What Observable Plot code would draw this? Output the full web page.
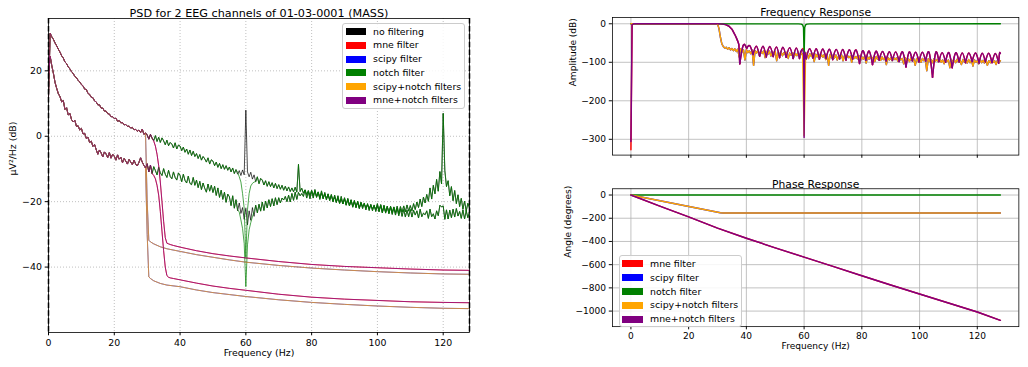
<!DOCTYPE html>
<html><head><meta charset="utf-8">
<script src="https://cdn.jsdelivr.net/npm/d3@7"></script>
<script src="https://cdn.jsdelivr.net/npm/@observablehq/plot@0.6"></script>
<style>
html,body{margin:0;padding:0;background:#fff;overflow:hidden;}
#root{position:relative;width:1028px;height:367px;overflow:hidden;font-family:"DejaVu Sans",sans-serif;color:#000;}
.panel{position:absolute;}
.legend{position:absolute;background:rgba(255,255,255,0.85);border:1px solid #cccccc;border-radius:3px;box-sizing:border-box;font-size:9.4px;}
.legend .row{position:absolute;left:0;right:0;height:12px;}
.legend .sw{position:absolute;top:2.5px;height:7px;}
.legend .lb{position:absolute;top:0;line-height:12px;white-space:nowrap;}
</style>
</head><body><div id="root"></div>
<script>
// ---------- LEFT PANEL: PSD (0.5 Hz grid starting at 0 Hz) ----------
const psdStep = 0.5;
const psdTitle = "PSD for 2 EEG channels of 01-03-0001 (MASS)";
const psdXTicks = [0, 20, 40, 60, 80, 100, 120];
const psdYTicks = [-40, -20, 0, 20];
const rawA = [
12.0, 31.5, 30.4, 29.6, 28.5, 27.6, 26.6, 25.7, 24.6, 23.9,
22.7, 22.2, 21.2, 20.6, 19.7, 19.2, 18.3, 17.9, 17.1, 16.6,
15.8, 15.4, 14.4, 14.3, 13.1, 12.8, 11.9, 11.8, 10.8, 10.5,
9.6, 9.6, 8.6, 8.6, 7.7, 7.7, 6.9, 6.8, 6.0, 6.0,
5.4, 5.5, 4.6, 4.8, 4.1, 4.2, 3.5, 3.6, 3.0, 3.1,
2.5, 2.7, 2.0, 2.1, 1.5, 1.9, 1.1, 2.2, 0.6, 1.0,
0.4, -0.9, 0.6, -0.6, -1.3, 0.2, -1.6, -0.3, -1.9, -0.5,
-1.4, -2.6, -1.2, -2.9, -1.9, -2.4, -3.6, -2.0, -3.9, -2.7,
-3.0, -4.4, -3.3, -4.9, -3.9, -5.5, -4.2, -5.9, -4.6, -6.2,
-5.3, -6.8, -5.6, -7.3, -6.2, -6.9, -7.9, -6.6, -8.5, -7.2,
-7.6, -9.0, -7.9, -9.5, -8.3, -9.9, -8.7, -10.1, -9.0, -10.4,
-9.4, -10.9, -9.7, -11.4, -10.2, -11.6, -10.5, -12.0, -10.3, -11.8,
8.0, -10.9, -12.4, -11.0, -13.1, -11.8, -13.9, -12.4, -14.5, -12.9,
-13.4, -14.9, -13.6, -15.3, -13.9, -15.4, -14.2, -15.8, -14.4, -16.0,
-14.8, -16.2, -15.0, -16.5, -15.3, -16.7, -15.5, -16.9, -15.8, -17.0,
-15.6, -17.1, -8.6, -16.9, -15.9, -17.4, -16.4, -17.8, -16.6, -18.1,
-16.5, -18.1, -16.8, -18.5, -17.1, -18.8, -17.3, -19.0, -17.6, -19.1,
-17.8, -19.4, -18.1, -19.8, -18.5, -20.1, -18.8, -20.5, -19.2, -20.7,
-19.1, -20.9, -19.3, -21.2, -19.6, -21.4, -19.9, -21.6, -20.1, -22.0,
-20.3, -22.1, -20.4, -22.5, -20.6, -22.7, -20.8, -22.8, -21.0, -23.0,
-21.2, -23.1, -21.0, -23.4, -21.3, -23.2, -21.5, -23.5, -21.4, -23.3,
-21.6, -23.4, -21.4, -23.6, -21.5, -23.2, -21.3, -23.1, -21.0, -22.9,
-21.2, -22.8, -20.6, -22.4, -20.1, -21.8, -19.2, -21.5, -18.6, -20.4,
-17.8, -19.9, -15.8, -19.2, -15.0, -17.6, -13.2, -16.8, -10.8, -14.6,
7.0, -10.5, -15.4, -13.6, -18.2, -15.4, -19.7, -16.6, -20.6, -17.9,
-21.5, -19.0, -22.3, -19.8, -22.9, -20.5,
-22.0];
const rawB = [
18.0, 24.5, 21.6, 19.2, 16.4, 14.6, 13.0, 12.1, 10.5, 10.9,
8.2, 8.7, 6.5, 7.0, 5.1, 4.4, 4.9, 3.0, 3.2, 1.9,
2.4, 0.7, 0.9, -0.7, -0.3, -1.9, -1.5, -3.1, -2.5, -4.1,
-5.5, -4.2, -5.1, -6.3, -4.8, -5.4, -6.5, -5.0, -6.7, -5.5,
-6.1, -7.3, -5.7, -7.0, -6.4, -8.1, -6.8, -7.6, -8.5, -7.1,
-7.9, -8.7, -7.3, -8.5, -9.1, -8.0, -6.6, -7.9, -8.9, -9.7,
-8.4, -10.9, -8.8, -11.4, -9.3, -10.5, -11.8, -9.5, -11.2, -12.0,
-9.9, -11.6, -12.6, -10.4, -12.3, -13.0, -10.9, -12.6, -13.4, -11.2,
-12.0, -13.9, -11.6, -13.5, -14.3, -12.2, -14.4, -14.8, -12.6, -15.0,
-13.4, -15.7, -13.8, -16.3, -14.3, -15.9, -17.1, -14.6, -16.8, -15.0,
-17.2, -15.3, -18.1, -15.8, -18.7, -16.5, -19.3, -17.1, -20.2, -17.7,
-18.5, -21.2, -18.2, -22.0, -19.4, -22.8, -20.4, -23.6, -21.8, -25.4,
-22.0, -27.1, -22.8, -25.7, -21.8, -24.5, -21.1, -23.4, -20.8, -22.9,
-20.1, -22.7, -19.8, -21.9, -19.4, -21.5, -19.1, -21.3, -18.8, -20.9,
-18.8, -20.4, -18.9, -19.5, -18.4, -20.0, -18.0, -20.1, -17.5, -19.6,
-17.1, -19.3, -17.2, -18.2, -17.5, -18.4, -16.4, -18.9, -17.0, -19.1,
-16.8, -18.9, -16.3, -18.7, -17.0, -19.3, -16.7, -19.1, -17.2, -19.5,
-17.6, -19.7, -17.8, -20.1, -18.0, -20.3, -18.2, -20.5, -18.4, -20.7,
-18.8, -21.1, -19.0, -21.3, -19.4, -21.7, -19.6, -21.9, -19.8, -22.1,
-20.2, -21.5, -20.7, -21.8, -20.9, -22.1, -21.1, -22.2, -21.3, -22.4,
-20.6, -22.9, -20.9, -23.3, -21.1, -23.5, -21.4, -23.7, -21.6, -23.9,
-21.8, -24.1, -22.0, -24.3, -22.2, -24.5, -22.4, -24.7, -22.6, -24.6,
-22.4, -24.7, -22.6, -24.1, -22.8, -25.0, -22.3, -24.6, -23.5, -24.0,
-22.8, -25.1, -22.3, -24.6, -23.7, -25.3, -22.8, -24.3, -21.1, -21.6,
-21.3, -25.4, -22.5, -25.3, -22.6, -24.9, -22.3, -24.7, -22.1, -24.4,
-23.0, -25.1, -22.5, -25.3, -22.8, -24.9,
-23.0];
// notch-filtered section around 60 Hz
const notchF = [57, 57.5, 58, 58.5, 59, 59.5, 60, 60.5, 61, 61.5, 62, 62.5, 63];
const notchA = [-10.2, -11.0, -12.4, -14.0, -17.5, -22.0, -37.0, -22.5, -17.5, -15.2, -14.4, -14.0, -13.9];
const notchB = [-19.4, -22.4, -23.2, -25.6, -28.2, -32.8, -46.0, -33.2, -28.6, -26.4, -24.6, -23.1, -21.1];
// mne low-pass (passband kept up to 31.5 Hz)
const mnePassMax = 31.5;
const mneTailF = [32, 32.5, 33, 33.5, 34, 34.5, 35, 35.5, 36, 36.5, 37, 38, 40, 45, 50, 55, 60, 70, 80, 90, 100, 110, 120, 128];
const mneTailA = [-1.5, -3, -5.5, -9, -14, -20, -26, -31, -32.7, -32.9, -33.1, -33.4, -33.9, -35.0, -35.9, -36.6, -37.2, -38.3, -39.2, -39.8, -40.2, -40.6, -40.9, -41.0];
const mneTailB = [-12, -13, -15, -18, -23, -29, -35, -40, -42.6, -43.1, -43.3, -43.5, -43.9, -44.9, -45.8, -46.5, -47.1, -48.3, -49.2, -49.8, -50.2, -50.6, -50.8, -50.9];
// scipy low-pass (passband kept up to 29.5 Hz)
const scipyPassMax = 29.5;
const scipyTailF = [30, 30.5, 31, 32, 34, 36, 40, 45, 50, 55, 60, 70, 80, 90, 100, 110, 120, 128];
const scipyTailA = [-20, -31.8, -32.3, -32.9, -33.8, -34.4, -35.2, -36.2, -37.0, -37.8, -38.5, -39.5, -40.3, -40.9, -41.4, -41.8, -42.1, -42.2];
const scipyTailB = [-30, -43.0, -43.5, -44.2, -45.0, -45.5, -46.0, -47.0, -47.8, -48.4, -49.0, -50.0, -50.8, -51.4, -51.9, -52.3, -52.6, -52.7];

const psdLabels = ["no filtering", "mne filter", "scipy filter", "notch filter", "scipy+notch filters", "mne+notch filters"];
const psdColors = ["black", "red", "blue", "green", "orange", "purple"];

// ---------- RIGHT TOP: frequency response ----------
const ampYTicks = [-300, -200, -100, 0];
const freqXTicks = [0, 20, 40, 60, 80, 100, 120];
const mneDC = -327, mneNotchDC = -306;
const mneRollF = [0.4, 1, 30, 31, 32, 33, 34, 35, 35.5, 36, 36.5, 37, 37.4];
const mneRollDb = [-2, 0, 0, -0.3, -1, -3, -6.5, -14, -21, -28, -36, -45, -54];
const lobeEdgeF = [37.7, 40.1, 42.3, 44.6, 46.9, 49.3, 51.5, 53.8, 56.2, 58.4, 60.7, 63.1, 65.3, 67.6, 69.9, 72.3, 74.5, 76.8, 79.2, 81.4, 83.7, 86.0, 88.4, 90.6, 92.9, 95.3, 97.5, 99.8, 102.1, 104.5, 106.7, 109.0, 111.3, 113.7, 115.9, 118.2, 120.6, 122.8, 125.1, 127.4, 128.0];
const lobeNullDb = [-104, -64, -80, -84, -86, -85, -88, -87, -90, -90, -91, -89, -92, -90, -93, -91, -94, -92, -103, -95, -106, -94, -97, -95, -98, -112, -96, -99, -97, -139, -98, -100, -114, -99, -101, -98, -102, -99, -101, -102, -77];
const lobePeakDb = [-56, -57, -58, -58.5, -59, -60, -61, -62, -63, -64, -64.5, -65, -65.5, -66, -66.5, -67, -67.5, -68, -70, -71, -71.5, -72, -72.5, -73, -73, -73.5, -74, -74, -74.5, -74.5, -75, -75, -75.5, -75.5, -76, -76, -76.5, -76.5, -77, -77];
const mneNotch60F = [58.4, 58.8, 59.2, 59.6, 59.85, 60.0, 60.15, 60.35, 60.7];
const mneNotch60Db = [-90, -72, -67, -69, -82, -295, -82, -74, -91];
const scipyRollF = [0, 29.5, 30, 30.5, 31, 31.5];
const scipyRollDb = [0, 0, -0.5, -12, -35, -52];
const scipyStopStart = 32;
const scipyStopDb = [
-59, -63, -61, -66, -62, -68, -64, -70, -65, -72,
-66, -86, -65, -73, -68, -94, -67, -75, -70, -78,
-68, -108, -70, -76, -69, -82, -72, -77, -70, -88,
-72, -79, -71, -84, -73, -80, -72, -96, -74, -80,
-73, -83, -75, -81, -74, -90, -76, -82, -75, -86,
-77, -83, -75, -87, -76, -80, -290, -84, -76, -90,
-78, -85, -77, -98, -79, -86, -78, -88, -80, -87,
-79, -93, -81, -108, -80, -88, -82, -89, -81, -94,
-82, -89, -81, -96, -83, -90, -82, -88, -84, -100,
-83, -90, -85, -91, -83, -97, -86, -92, -84, -102,
-86, -92, -84, -91, -87, -98, -85, -92, -88, -95,
-86, -93, -88, -106, -87, -94, -89, -96, -87, -93,
-89, -97, -88, -94, -90, -104, -88, -95, -91, -98,
-89, -96, -91, -108, -90, -97, -92, -100, -90, -96,
-92, -122, -91, -98, -93, -101, -91, -97, -93, -99,
-92, -100, -94, -104, -92, -98, -94, -114, -93, -99,
-94, -101, -92, -100, -95, -106, -93, -99, -95, -102,
-93, -101, -95, -110, -94, -100, -96, -104, -93, -101,
-95, -102, -94, -108, -96, -101, -94, -100, -96, -106,
-95, -101, -96];
const notchRespF = [0, 58, 59, 59.5, 59.8, 60, 60.2, 60.5, 61, 62, 128];
const notchRespDb = [0, -0.3, -1, -3, -10, -85, -10, -3, -1, -0.3, 0];

// ---------- RIGHT BOTTOM: phase response ----------
const phaseYTicks = [-1000, -800, -600, -400, -200, 0];
const mnePhaseF = [0, 10, 20, 30, 40, 50, 60, 70, 80, 90, 100, 110, 120, 128];
const mnePhaseDeg = [0, -95, -188, -285, -372, -455, -535, -615, -695, -775, -853, -930, -1008, -1080];
const scipyPhaseF = [0, 31, 32, 128];
const scipyPhaseDeg = [0, -153, -155, -155];
const notchPhaseF = [0, 128];
const notchPhaseDeg = [0, 0];
const respLabels = ["mne filter", "scipy filter", "notch filter", "scipy+notch filters", "mne+notch filters"];
const respColors = ["red", "blue", "green", "orange", "purple"];

// ================= build =================
const fmt = d3.format("d");
const FS = 9.4, TFS = 11.2;
const zip = (fs, vs) => fs.map((f, i) => ({f, v: vs[i]}));
const rawPts = vals => vals.map((v, i) => ({f: i * psdStep, v}));
const lowpass = (vals, maxF, tf, tv) => rawPts(vals).filter(d => d.f <= maxF).concat(zip(tf, tv));
const notched = (vals, nv) => rawPts(vals).filter(d => d.f < notchF[0] || d.f > notchF[notchF.length - 1]).concat(zip(notchF, nv)).sort((a, b) => a.f - b.f);

const chanA = [rawPts(rawA), lowpass(rawA, mnePassMax, mneTailF, mneTailA), lowpass(rawA, scipyPassMax, scipyTailF, scipyTailA), notched(rawA, notchA), lowpass(rawA, scipyPassMax, scipyTailF, scipyTailA), lowpass(rawA, mnePassMax, mneTailF, mneTailA)];
const chanB = [rawPts(rawB), lowpass(rawB, mnePassMax, mneTailF, mneTailB), lowpass(rawB, scipyPassMax, scipyTailF, scipyTailB), notched(rawB, notchB), lowpass(rawB, scipyPassMax, scipyTailF, scipyTailB), lowpass(rawB, mnePassMax, mneTailF, mneTailB)];

const svgStyle = {fontFamily: "DejaVu Sans", fontSize: FS + "px", color: "#000", background: "transparent", overflow: "visible"};
const axOpts = {tickSize: 3.3, tickPadding: 3.3, fontSize: FS, tickFormat: fmt, label: null, stroke: "#000"};

const root = document.getElementById("root");
function place(el, left, top) {
  const d = document.createElement("div");
  d.className = "panel"; d.style.left = left + "px"; d.style.top = top + "px";
  d.appendChild(el); root.appendChild(d);
}

const psdMarks = [
  Plot.gridX(psdXTicks, {stroke: "#b0b0b0", strokeOpacity: 1, strokeWidth: 0.8, strokeDasharray: "1,2"}),
  Plot.gridY(psdYTicks, {stroke: "#b0b0b0", strokeOpacity: 1, strokeWidth: 0.8, strokeDasharray: "1,2"})
];
psdColors.forEach((c, k) => {
  psdMarks.push(Plot.line(chanA[k], {x: "f", y: "v", stroke: c, strokeOpacity: 0.7, strokeWidth: 1}));
  psdMarks.push(Plot.line(chanB[k], {x: "f", y: "v", stroke: c, strokeOpacity: 0.7, strokeWidth: 1}));
});
psdMarks.push(
  Plot.frame({stroke: "#000", strokeWidth: 0.8}),
  Plot.ruleX([0, 128], {stroke: "#000", strokeWidth: 1.5, strokeDasharray: "5.5,2.4"}),
  Plot.axisX(psdXTicks, axOpts),
  Plot.axisY(psdYTicks, axOpts),
  Plot.text([psdTitle], {frameAnchor: "top", dy: -9.5, fontSize: TFS}),
  Plot.text(["Frequency (Hz)"], {frameAnchor: "bottom", dy: 23.5, fontSize: FS}),
  Plot.text(["µV²/Hz (dB)"], {frameAnchor: "left", dx: -36, rotate: -90, fontSize: FS})
);
place(Plot.plot({
  width: 480, height: 367, marginLeft: 48, marginRight: 11, marginTop: 18, marginBottom: 35,
  x: {domain: [0, 128]}, y: {domain: [-60, 36]}, style: svgStyle, marks: psdMarks
}), 0, 0);

// frequency response data
function lobeRows(skipF) {
  const rows = [];
  for (let i = 0; i < lobeEdgeF.length - 1; i++) {
    if (skipF !== undefined && lobeEdgeF[i] < skipF && lobeEdgeF[i + 1] > skipF) continue;
    rows.push({f: lobeEdgeF[i], v: lobeNullDb[i], lobe: i});
    rows.push({f: (lobeEdgeF[i] + lobeEdgeF[i + 1]) / 2, v: lobePeakDb[i], lobe: i});
    rows.push({f: lobeEdgeF[i + 1], v: lobeNullDb[i + 1], lobe: i});
  }
  return rows;
}
const mneRoll = dc => [{f: 0, v: dc}].concat(zip(mneRollF, mneRollDb), [{f: lobeEdgeF[0], v: lobeNullDb[0]}]);
const scipyStop = scipyStopDb.map((v, i) => ({f: scipyStopStart + i * psdStep, v}));
const scipyLine = zip(scipyRollF, scipyRollDb).concat(scipyStop);
const scipyNoNotch = scipyLine.filter(d => d.f !== 60);

const rGrid = {stroke: "#b0b0b0", strokeOpacity: 1, strokeWidth: 0.8};
const ampMarks = [
  Plot.gridX(freqXTicks, rGrid),
  Plot.gridY(ampYTicks, rGrid),
  Plot.line(mneRoll(mneDC), {x: "f", y: "v", stroke: "red", strokeWidth: 1.5}),
  Plot.line(lobeRows(), {x: "f", y: "v", z: "lobe", stroke: "red", strokeWidth: 1.5, curve: "natural"}),
  Plot.line(scipyNoNotch, {x: "f", y: "v", stroke: "blue", strokeWidth: 1.5}),
  Plot.line(zip(notchRespF, notchRespDb), {x: "f", y: "v", stroke: "green", strokeWidth: 1.5}),
  Plot.line(scipyLine, {x: "f", y: "v", stroke: "orange", strokeWidth: 1.5}),
  Plot.line(mneRoll(mneNotchDC), {x: "f", y: "v", stroke: "purple", strokeWidth: 1.5}),
  Plot.line(lobeRows(60), {x: "f", y: "v", z: "lobe", stroke: "purple", strokeWidth: 1.5, curve: "natural"}),
  Plot.line(zip(mneNotch60F, mneNotch60Db), {x: "f", y: "v", stroke: "purple", strokeWidth: 1.5}),
  Plot.frame({stroke: "#000", strokeWidth: 0.8}),
  Plot.axisX(freqXTicks, {...axOpts, tickFormat: () => ""}),
  Plot.axisY(ampYTicks, axOpts),
  Plot.text(["Frequency Response"], {frameAnchor: "top", dy: -10, fontSize: TFS}),
  Plot.text(["Amplitude (dB)"], {frameAnchor: "left", dx: -41, rotate: -90, fontSize: FS})
];
place(Plot.plot({
  width: 486.4, height: 170, marginLeft: 54, marginRight: 10, marginTop: 17.7, marginBottom: 9.3,
  x: {domain: [-6.4, 134.4]}, y: {domain: [-341, 16.25]}, style: svgStyle, marks: ampMarks
}), 560, 0);

const phaseMarks = [
  Plot.gridX(freqXTicks, rGrid),
  Plot.gridY(phaseYTicks, rGrid),
  Plot.line(zip(mnePhaseF, mnePhaseDeg), {x: "f", y: "v", stroke: "red", strokeWidth: 1.5}),
  Plot.line(zip(scipyPhaseF, scipyPhaseDeg), {x: "f", y: "v", stroke: "blue", strokeWidth: 1.5}),
  Plot.line(zip(notchPhaseF, notchPhaseDeg), {x: "f", y: "v", stroke: "green", strokeWidth: 1.5}),
  Plot.line(zip(scipyPhaseF, scipyPhaseDeg), {x: "f", y: "v", stroke: "orange", strokeWidth: 1.5}),
  Plot.line(zip(mnePhaseF, mnePhaseDeg), {x: "f", y: "v", stroke: "purple", strokeWidth: 1.5}),
  Plot.frame({stroke: "#000", strokeWidth: 0.8}),
  Plot.axisX(freqXTicks, axOpts),
  Plot.axisY(phaseYTicks, axOpts),
  Plot.text(["Phase Response"], {frameAnchor: "top", dy: -9, fontSize: TFS}),
  Plot.text(["Frequency (Hz)"], {frameAnchor: "bottom", dy: 23.5, fontSize: FS}),
  Plot.text(["Angle (degrees)"], {frameAnchor: "left", dx: -46, rotate: -90, fontSize: FS})
];
place(Plot.plot({
  width: 486.4, height: 197, marginLeft: 54, marginRight: 10, marginTop: 19, marginBottom: 34.7,
  x: {domain: [-6.4, 134.4]}, y: {domain: [-1134, 54]}, style: svgStyle, marks: phaseMarks
}), 560, 170);

// legends
function legend(labels, colors, left, top, width, height, swLeft, swW, lbLeft, rowTop, rowStep) {
  const box = document.createElement("div");
  box.className = "legend";
  Object.assign(box.style, {left: left + "px", top: top + "px", width: width + "px", height: height + "px"});
  labels.forEach((lab, i) => {
    const row = document.createElement("div");
    row.className = "row"; row.style.top = (rowTop + i * rowStep) + "px";
    const sw = document.createElement("div");
    sw.className = "sw"; Object.assign(sw.style, {left: swLeft + "px", width: swW + "px", background: colors[i]});
    const lb = document.createElement("div");
    lb.className = "lb"; lb.style.left = lbLeft + "px"; lb.textContent = lab;
    row.appendChild(sw); row.appendChild(lb); box.appendChild(row);
  });
  root.appendChild(box);
}
legend(psdLabels, psdColors, 342, 23, 123, 86, 3, 20, 30, 1.7, 13.7);
legend(respLabels, respColors, 619, 255, 123, 72, 2, 21, 30, 1.7, 13.9);
</script></body></html>
